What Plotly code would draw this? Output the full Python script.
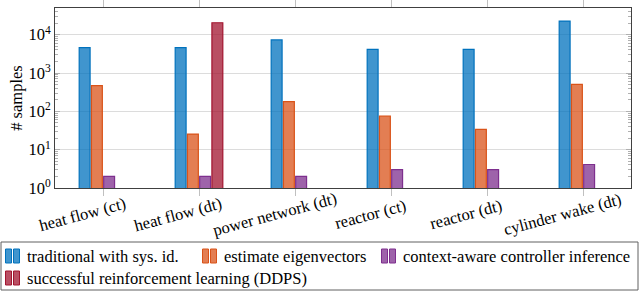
import plotly.graph_objects as go

# ---- data ----
categories = ["heat flow (ct)", "heat flow (dt)", "power network (dt)",
              "reactor (ct)", "reactor (dt)", "cylinder wake (dt)"]
traditional = [4600, 4600, 7300, 4150, 4150, 22700]
eigenvectors = [470, 25.5, 180, 75, 34, 505]
context_aware = [2, 2, 2, 3, 3, 4.1]
ddps = [None, 20500, None, None, None, None]
series_names = ["traditional with sys. id.", "estimate eigenvectors",
                "context-aware controller inference",
                "successful reinforcement learning (DDPS)"]
ytick_vals = [1, 10, 100, 1000, 10000]
ytick_text = ["10<sup>0</sup>", "10<sup>1</sup>", "10<sup>2</sup>",
              "10<sup>3</sup>", "10<sup>4</sup>"]
y_title = "# samples"

# ---- style ----
line_colors = ["#0072BD", "#D95319", "#7E2F8E", "#A2142F"]
fill_colors = ["rgba(0,114,189,0.75)", "rgba(217,83,25,0.75)",
               "rgba(126,47,142,0.75)", "rgba(162,20,47,0.75)"]
FONT = "Liberation Serif, Times New Roman, serif"
FS = 16.5

W, H = 640, 292
L, R, T, B = 55, 631, 8, 188


def px(x):
    return (x - L) / (R - L)


def py(y):
    return (B - y) / (B - T)


fig = go.Figure()
for name, vals, lc, fc in zip(series_names,
                              [traditional, eigenvectors, context_aware, ddps],
                              line_colors, fill_colors):
    fig.add_trace(go.Bar(x=categories, y=vals, name=name,
                         marker=dict(color=fc, line=dict(color=lc, width=1.2)),
                         showlegend=False))

fig.update_layout(
    width=W, height=H,
    margin=dict(l=L, r=W - R, t=T, b=H - B, pad=0, autoexpand=False),
    barmode="group", bargap=0.49, bargroupgap=0.11,
    plot_bgcolor="white", paper_bgcolor="white",
    font=dict(family=FONT, size=FS, color="black"),
)
fig.update_xaxes(
    type="category", range=[-0.5, 5.5], automargin=False,
    showline=True, linecolor="#404040", linewidth=1, mirror="ticks",
    ticks="outside", ticklen=7, tickcolor="#c0c0c0", tickwidth=1,
    showticklabels=False, showgrid=False,
)
fig.update_yaxes(
    type="log", range=[0, 4.696], automargin=False,
    tickmode="array", tickvals=ytick_vals, ticktext=ytick_text,
    showline=True, linecolor="#404040", linewidth=1, mirror="ticks",
    ticks="inside", ticklen=5, tickcolor="#b0b0b0",
    showgrid=True, gridcolor="#dcdcdc", gridwidth=1,
    minor=dict(ticks="inside", ticklen=3, tickcolor="#b0b0b0", dtick="D1",
               showgrid=False),
    title=dict(text=y_title, standoff=1, font=dict(family=FONT, size=FS)),
    tickfont=dict(family=FONT, size=FS),
)

# rotated category labels
for c in categories:
    fig.add_annotation(x=c, xref="x", y=0, yref="paper", text=c,
                       showarrow=False, textangle=-15,
                       xanchor="center", yanchor="middle",
                       xshift=-21, yshift=-26,
                       font=dict(family=FONT, size=FS))

# legend box
fig.add_shape(type="rect", xref="paper", yref="paper",
              x0=px(1), x1=px(638), y0=py(290), y1=py(242),
              line=dict(color="#606060", width=1), fillcolor="white")
legend_pos = [(5, 256), (202, 256), (381, 256), (5, 278)]
for (x0, yc), name, lc, fc in zip(legend_pos, series_names, line_colors, fill_colors):
    for dx in (0, 8):
        fig.add_shape(type="rect", xref="paper", yref="paper",
                      x0=px(x0 + dx + 0.5), x1=px(x0 + dx + 6.5),
                      y0=py(yc + 7), y1=py(yc - 7),
                      line=dict(color=lc, width=1), fillcolor=fc)
    fig.add_annotation(x=px(x0 + 20), xref="paper", y=py(yc), yref="paper",
                       text=name, showarrow=False, xanchor="left",
                       yanchor="middle", font=dict(family=FONT, size=FS))

fig.write_html("out.html", config={"displayModeBar": False},
               post_script="document.body.style.margin='0px';"
                           "document.body.style.padding='0px';")
